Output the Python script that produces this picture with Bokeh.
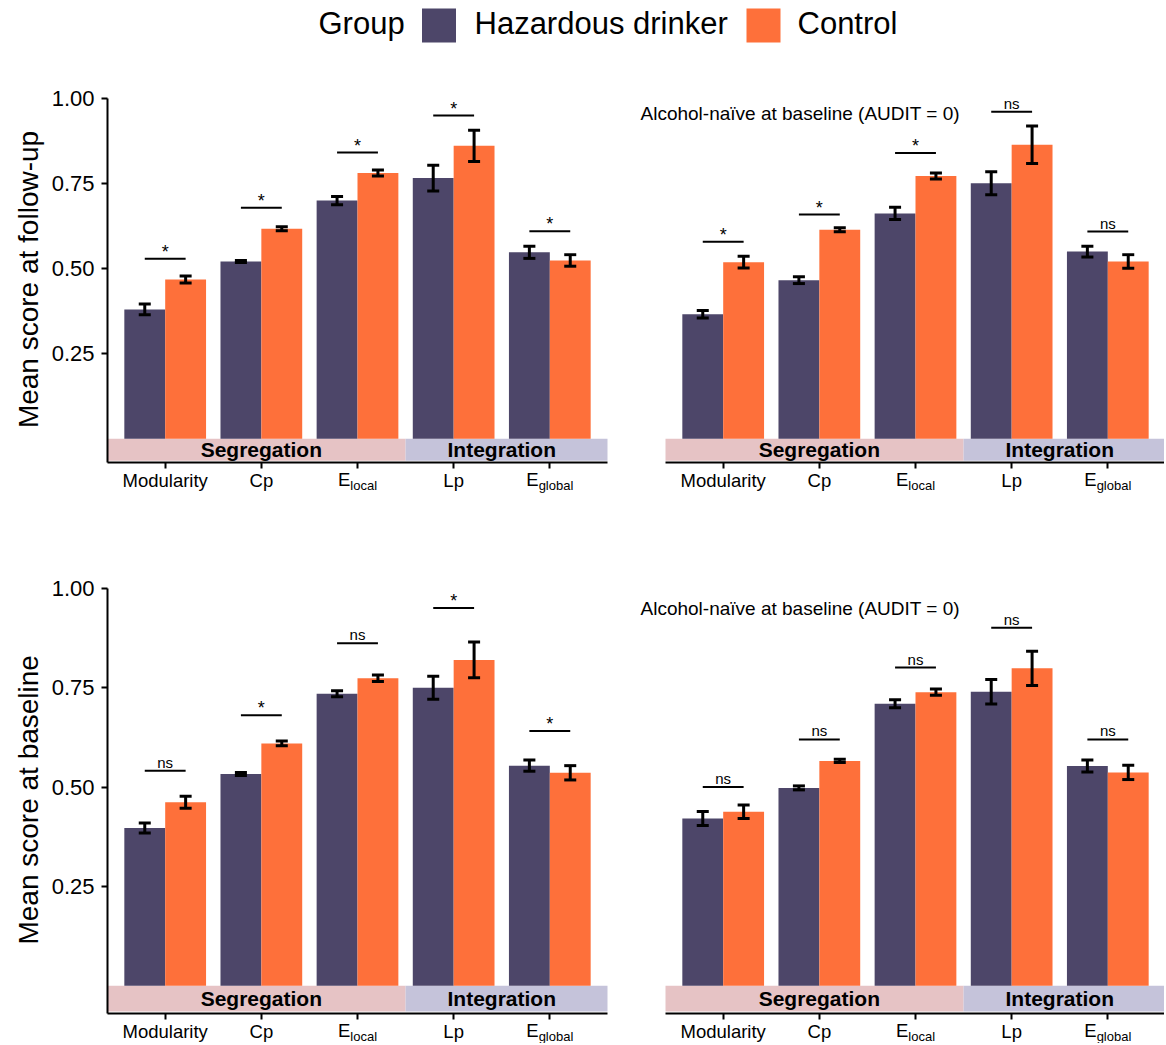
import math
import pandas as pd
from bokeh.plotting import figure
from bokeh.models import Range1d, FixedTicker, Label, ColumnDataSource
from bokeh.layouts import column, row
from bokeh.embed import file_html
from bokeh.resources import INLINE
from bokeh.transform import dodge
from bokeh.core.properties import value

FONT = "Liberation Sans"

# ---------------- data ----------------
metrics = ["Modularity", "Cp", "Elocal", "Lp", "Eglobal"]
metric_main = ["Modularity", "Cp", "E", "Lp", "E"]
metric_sub = ["", "", "local", "", "global"]
groups = ["Hazardous drinker", "Control"]
legend_title = "Group"
domains = ["Segregation", "Integration"]
domain_members = [[1, 2, 3], [4, 5]]
y_ticks = [0.25, 0.5, 0.75, 1.0]
y_tick_labels = ["0.25", "0.50", "0.75", "1.00"]
note_text = "Alcohol-naïve at baseline (AUDIT = 0)"
note_y = [0.956, 0.950]
ylabels = ["Mean score at follow-up", "Mean score at baseline"]
ylabel_y = 0.468

# follow-up, full sample
fu_haz = [0.380, 0.521, 0.700, 0.766, 0.548]
fu_haz_se = [0.016, 0.003, 0.012, 0.038, 0.018]
fu_ctl = [0.468, 0.617, 0.781, 0.861, 0.524]
fu_ctl_se = [0.010, 0.006, 0.009, 0.046, 0.017]
fu_sig = ["*", "*", "*", "*", "*"]
fu_sig_y = [0.529, 0.679, 0.841, 0.950, 0.610]

# follow-up, alcohol-naive at baseline
fun_haz = [0.366, 0.466, 0.662, 0.751, 0.550]
fun_haz_se = [0.011, 0.010, 0.018, 0.034, 0.016]
fun_ctl = [0.519, 0.614, 0.772, 0.864, 0.521]
fun_ctl_se = [0.017, 0.006, 0.009, 0.055, 0.020]
fun_sig = ["*", "*", "*", "ns", "ns"]
fun_sig_y = [0.579, 0.659, 0.840, 0.961, 0.609]

# baseline, full sample
bl_haz = [0.397, 0.533, 0.735, 0.750, 0.554]
bl_haz_se = [0.0125, 0.004, 0.0075, 0.029, 0.014]
bl_ctl = [0.462, 0.610, 0.774, 0.820, 0.536]
bl_ctl_se = [0.015, 0.006, 0.008, 0.045, 0.018]
bl_sig = ["ns", "*", "ns", "*", "*"]
bl_sig_y = [0.541, 0.681, 0.862, 0.951, 0.641]

# baseline, alcohol-naive at baseline
bln_haz = [0.421, 0.498, 0.710, 0.740, 0.553]
bln_haz_se = [0.0175, 0.005, 0.010, 0.031, 0.015]
bln_ctl = [0.438, 0.566, 0.739, 0.799, 0.537]
bln_ctl_se = [0.017, 0.004, 0.008, 0.043, 0.018]
bln_sig = ["ns", "ns", "ns", "ns", "ns"]
bln_sig_y = [0.500, 0.620, 0.801, 0.901, 0.620]

# ---------------- style / layout ----------------
C_HAZ = "#4d4669"
C_CTL = "#fe703a"
C_DOMAIN = ["#e6c3c5", "#c5c3da"]
X_START = 0.4
X_END_L = 5.6
Y_END = 1.0
AXIS_Y = -0.07
STRIP_BOTTOM = -0.065
OFF = 0.2125
BAR_W = 0.425
CAP = 0.0625
TOTAL_W = 1164
SPACING = 500 / (X_END_L - X_START)   # px per category unit
TOP_PAD = 16                          # px of frame kept above 1.00 for its tick label


def make_panel(haz, haz_se, ctl, ctl_se, sig, sig_y, ylabel, note, ny, width, height,
               b_top, axis_px, strip_end, ppu, show_y):
    b_top = b_top - TOP_PAD
    y_top = Y_END + TOP_PAD / ppu
    frame_h = height - b_top
    y_start = y_top - frame_h / ppu
    x_start = X_START - axis_px / SPACING
    x_end = x_start + width / SPACING
    if strip_end is None:
        strip_end = x_end
    p = figure(width=width, height=height,
               x_range=Range1d(x_start, x_end), y_range=Range1d(y_start, y_top),
               output_backend="svg", toolbar_location=None,
               min_border_left=0, min_border_right=0,
               min_border_top=b_top, min_border_bottom=0)
    p.outline_line_color = None
    p.grid.visible = False

    idx = list(range(1, len(metrics) + 1))
    df = pd.DataFrame(dict(x=idx, haz=haz, haz_se=haz_se, ctl=ctl, ctl_se=ctl_se,
                           sig=sig, sig_y=sig_y))
    df["xh"] = df["x"] - OFF
    df["xc"] = df["x"] + OFF
    df["haz_lo"] = df["haz"] - df["haz_se"]
    df["haz_hi"] = df["haz"] + df["haz_se"]
    df["ctl_lo"] = df["ctl"] - df["ctl_se"]
    df["ctl_hi"] = df["ctl"] + df["ctl_se"]
    src = ColumnDataSource(df)

    # domain strips
    lefts, rights, centers = [], [], []
    for k, mem in enumerate(domain_members):
        lefts.append(X_START if k == 0 else min(mem) - 0.5)
        rights.append(strip_end if k == len(domain_members) - 1 else max(mem) + 0.5)
        centers.append(sum(mem) / len(mem))
    p.quad(left=lefts, right=rights, bottom=STRIP_BOTTOM, top=0, fill_color=C_DOMAIN,
           line_color=None)
    p.text(x=centers, y=[STRIP_BOTTOM / 2] * len(centers), text=domains,
           text_font=value(FONT), text_font_size="21px", text_font_style="bold",
           text_align="center", text_baseline="middle", text_color="black")

    # bars
    p.vbar(x=dodge("x", -OFF, range=p.x_range), top="haz", width=BAR_W, source=src,
           fill_color=C_HAZ, line_color=None)
    p.vbar(x=dodge("x", OFF, range=p.x_range), top="ctl", width=BAR_W, source=src,
           fill_color=C_CTL, line_color=None)

    # error bars
    for g in ["haz", "ctl"]:
        xs = df["xh" if g == "haz" else "xc"].tolist()
        lo = df[g + "_lo"].tolist()
        hi = df[g + "_hi"].tolist()
        p.segment(x0=xs, y0=lo, x1=xs, y1=hi, line_color="black", line_width=3)
        for yy in (hi, lo):
            p.segment(x0=[v - CAP for v in xs], y0=yy, x1=[v + CAP for v in xs], y1=yy,
                      line_color="black", line_width=3)

    # significance brackets
    p.segment(x0="xh", y0="sig_y", x1="xc", y1="sig_y", source=src,
              line_color="black", line_width=2)
    star = df[df["sig"] == "*"]
    ns = df[df["sig"] != "*"]
    p.text(x=star["x"].tolist(), y=(star["sig_y"] + 7 / ppu).tolist(),
           text=star["sig"].tolist(), text_font=value(FONT), text_font_size="18px",
           text_align="center", text_baseline="middle", text_color="black")
    p.text(x=ns["x"].tolist(), y=(ns["sig_y"] + 8.5 / ppu).tolist(),
           text=ns["sig"].tolist(), text_font=value(FONT), text_font_size="15px",
           text_align="center", text_baseline="middle", text_color="black")

    # x axis (fixed at the bottom of the strip)
    xa = p.xaxis[0]
    xa.fixed_location = AXIS_Y
    xa.bounds = (X_START, strip_end)
    xa.ticker = FixedTicker(ticks=idx)
    xa.major_label_overrides = {i: (m if s == "" else "") for i, m, s in
                                zip(idx, metric_main, metric_sub)}
    xa.minor_tick_line_color = None
    xa.axis_line_width = 2
    xa.axis_line_color = "black"
    xa.major_tick_line_width = 2
    xa.major_tick_line_color = "black"
    xa.major_tick_out = 6
    xa.major_tick_in = 0
    xa.major_label_standoff = 1
    xa.major_label_text_font = FONT
    xa.major_label_text_font_size = "18.5px"
    xa.major_label_text_color = "black"
    for i, m, s in zip(idx, metric_main, metric_sub):
        if s:
            w_main = 0.667 * 18.5
            w_sub = {"local": 2.056, "global": 2.668}.get(s, 0.5 * len(s)) * 13
            x0 = -(w_main + w_sub) / 2
            p.add_layout(Label(x=i + x0 / SPACING, y=AXIS_Y - 17 / ppu, text=m,
                               text_font=FONT, text_font_size="18.5px",
                               text_baseline="middle", text_align="left",
                               text_color="black"))
            p.add_layout(Label(x=i + (x0 + w_main) / SPACING, y=AXIS_Y - 23 / ppu,
                               text=s, text_font=FONT, text_font_size="13px",
                               text_baseline="middle", text_align="left",
                               text_color="black"))

    # y axis (fixed at the left edge of the bars area)
    ya = p.yaxis[0]
    if show_y:
        ya.fixed_location = X_START
        ya.bounds = (AXIS_Y, Y_END)
        ya.ticker = FixedTicker(ticks=y_ticks)
        ya.major_label_overrides = dict(zip(y_ticks, y_tick_labels))
        ya.minor_tick_line_color = None
        ya.axis_line_width = 2
        ya.axis_line_color = "black"
        ya.major_tick_line_width = 2
        ya.major_tick_line_color = "black"
        ya.major_tick_out = 6
        ya.major_tick_in = 0
        ya.major_label_standoff = 7
        ya.major_label_text_font = FONT
        ya.major_label_text_font_size = "22px"
        ya.major_label_text_color = "black"
        p.text(x=[X_START - 79 / SPACING], y=[ylabel_y], text=[ylabel], angle=math.pi / 2,
               text_font=value(FONT), text_font_size="28px", text_align="center",
               text_baseline="middle", text_color="black")
    else:
        ya.visible = False

    if note:
        p.add_layout(Label(x=X_START - 25 / SPACING, y=ny, text=note, text_font=FONT,
                           text_font_size="19px", text_baseline="middle",
                           text_align="left", text_color="black"))
    return p


# ---------------- legend strip ----------------
LEG_H = 56
leg = figure(width=TOTAL_W, height=LEG_H, x_range=Range1d(0, TOTAL_W),
             y_range=Range1d(0, LEG_H), output_backend="svg", toolbar_location=None,
             min_border=0)
leg.axis.visible = False
leg.grid.visible = False
leg.outline_line_color = None
leg.text(x=[318], y=[33], text=[legend_title], text_font=value(FONT),
         text_font_size="31px", text_baseline="middle", text_align="left",
         text_color="black")
leg.rect(x=[438.5, 763], y=[31, 31], width=34, height=34, fill_color=[C_HAZ, C_CTL],
         line_color=None)
leg.text(x=[474, 797], y=[33, 33], text=groups, text_font=value(FONT),
         text_font_size="31px", text_baseline="middle", text_align="left",
         text_color="black")

# ---------------- panels ----------------
LW = 620
RW = TOTAL_W - LW
L_AXIS_PX = 107           # y axis position inside the left figure
R_AXIS_PX = 665 - LW      # start of the bars area inside the right figure

H1 = 474
BT1 = 42
PPU1 = 364 / (Y_END - AXIS_Y)
H2 = 1043 - LEG_H - H1
BT2 = 58
PPU2 = 425 / (Y_END - AXIS_Y)

tl = make_panel(fu_haz, fu_haz_se, fu_ctl, fu_ctl_se, fu_sig, fu_sig_y, ylabels[0], None,
                None, LW, H1, BT1, L_AXIS_PX, X_END_L, PPU1, True)
tr = make_panel(fun_haz, fun_haz_se, fun_ctl, fun_ctl_se, fun_sig, fun_sig_y, None,
                note_text, note_y[0], RW, H1, BT1, R_AXIS_PX, None, PPU1, False)
bl = make_panel(bl_haz, bl_haz_se, bl_ctl, bl_ctl_se, bl_sig, bl_sig_y, ylabels[1], None,
                None, LW, H2, BT2, L_AXIS_PX, X_END_L, PPU2, True)
br = make_panel(bln_haz, bln_haz_se, bln_ctl, bln_ctl_se, bln_sig, bln_sig_y, None,
                note_text, note_y[1], RW, H2, BT2, R_AXIS_PX, None, PPU2, False)

layout = column(leg, row(tl, tr), row(bl, br))

with open("out.html", "w") as f:
    f.write(file_html(layout, INLINE))
